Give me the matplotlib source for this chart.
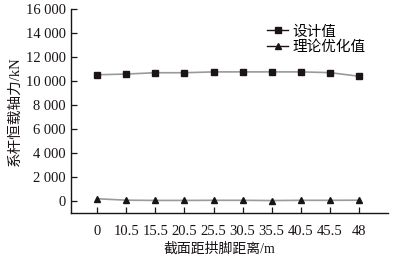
import numpy as np
import matplotlib
matplotlib.use('Agg')
import matplotlib.pyplot as plt
from matplotlib.lines import Line2D
from matplotlib.ticker import FuncFormatter

plt.rcParams['font.family'] = ['Liberation Serif', 'Noto Sans CJK SC']

# section positions (m) and axial forces (kN)
sections = ['0', '10.5', '15.5', '20.5', '25.5', '30.5', '35.5', '40.5', '45.5', '48']
design = [10520, 10580, 10690, 10690, 10760, 10760, 10760, 10760, 10700, 10400]
optimized = [180, 60, 40, 40, 50, 50, 30, 50, 50, 60]
series_names = ['设计值', '理论优化值']

fig = plt.figure(figsize=(3.95, 2.59), dpi=100)
ax = fig.add_axes([0.180, 0.178, 0.802, 0.787])

x = np.arange(len(sections))
ax.plot(x, design, color='#9a9a9a', lw=1.2, marker='s', ms=4.6,
        mfc='#1a1414', mec='#1a1414')
ax.plot(x, optimized, color='#9a9a9a', lw=1.2, marker='^', ms=5,
        mfc='#1a1414', mec='#1a1414')

ax.set_xlim(-0.9, 10.0)
ax.set_ylim(-1000, 16000)
ax.set_yticks(np.arange(0, 16001, 2000))
ax.yaxis.set_major_formatter(FuncFormatter(lambda v, p: f'{int(v):,}'.replace(',', ' ')))
ax.set_xticks(x)
ax.set_xticklabels(sections)

for s in ['top', 'right']:
    ax.spines[s].set_visible(False)
for s in ['left', 'bottom']:
    ax.spines[s].set_linewidth(1.0)
    ax.spines[s].set_color('#1a1414')
ax.tick_params(direction='in', length=4, width=0.9, labelsize=10.5,
               colors='#1a1414', pad=4)
ax.tick_params(axis='x', pad=9)

ax.set_xlabel('截面距拱脚距离/m', fontsize=10, color='#1a1414', labelpad=3)
ax.xaxis.label.set_x(0.467)
ax.set_ylabel('系杆恒载轴力/kN', fontsize=10.5, color='#1a1414', labelpad=3)

handles = [Line2D([0], [0], color='#1a1414', lw=1.0, marker='s', ms=4.6),
           Line2D([0], [0], color='#1a1414', lw=1.0, marker='^', ms=5)]
ax.legend(handles, series_names, loc='upper right', bbox_to_anchor=(0.97, 0.985),
          frameon=False, fontsize=10.5, handlelength=1.4, handletextpad=0.3,
          labelspacing=0.1)

fig.savefig('out.png', dpi=100)
